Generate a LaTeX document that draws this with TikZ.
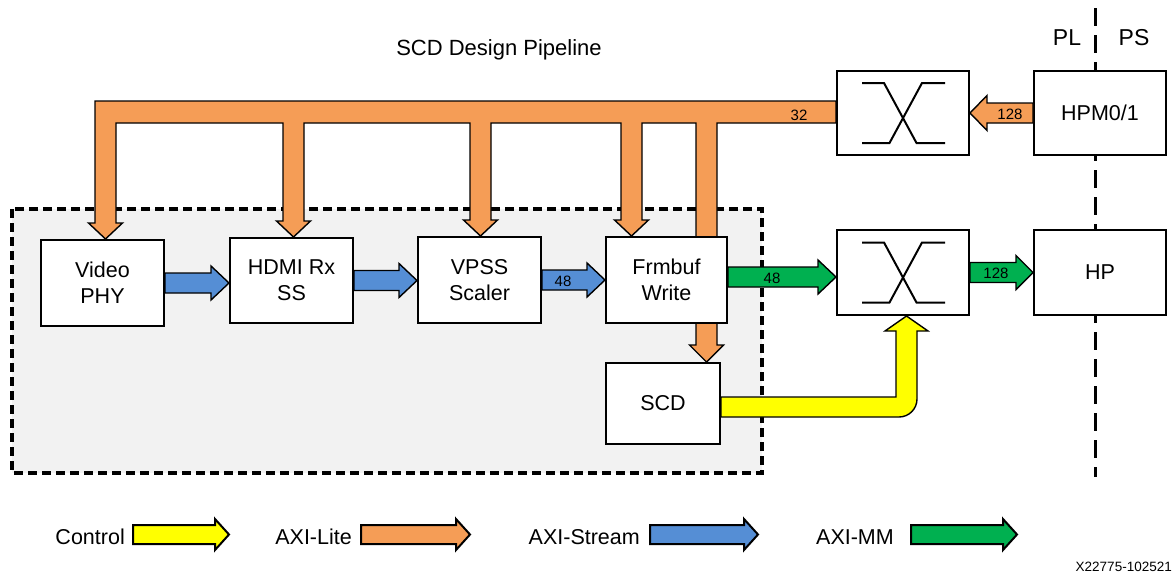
\documentclass[tikz,border=0pt]{standalone}
\usepackage{fontspec}
\setmainfont{Liberation Sans}
\usetikzlibrary{calc}
\definecolor{lite}{RGB}{245,157,86}
\definecolor{stream}{RGB}{85,142,213}
\definecolor{mm}{RGB}{0,176,80}
\definecolor{ctrl}{RGB}{255,255,0}
\definecolor{regionfill}{RGB}{242,242,242}
\pgfdeclarelayer{bg}
\pgfdeclarelayer{mid}
\pgfsetlayers{bg,mid,main}
\tikzset{
  blk/.style={draw, line width=2pt, fill=white, align=center, inner sep=0pt,
    font=\fontsize{21.5}{26}\selectfont},
  arr/.style={draw=black, line width=1.4pt, line join=miter},
  lbl/.style={inner sep=0pt, font=\fontsize{15}{15}\selectfont},
  txt/.style={inner sep=0pt, font=\fontsize{21.5}{26}\selectfont},
  bigtxt/.style={inner sep=0pt, font=\fontsize{23}{26}\selectfont},
  swline/.style={line width=2pt},
  regionline/.style={draw=black, line width=3.2pt, dash pattern=on 9pt off 5pt},
}
% right-pointing block arrow: from, to, fill, half shaft, half head, head length
\newcommand{\rblock}[6]{%
  \draw[arr, fill=#3] let \p1=(#1), \p2=(#2) in
    (\x1,\y1+#4pt) -- (\x2-#6pt,\y1+#4pt) -- (\x2-#6pt,\y1+#5pt) -- (\x2,\y1)
    -- (\x2-#6pt,\y1-#5pt) -- (\x2-#6pt,\y1-#4pt) -- (\x1,\y1-#4pt) -- cycle;}
% left-pointing block arrow
\newcommand{\lblock}[6]{%
  \draw[arr, fill=#3] let \p1=(#1), \p2=(#2) in
    (\x1,\y1+#4pt) -- (\x2+#6pt,\y1+#4pt) -- (\x2+#6pt,\y1+#5pt) -- (\x2,\y1)
    -- (\x2+#6pt,\y1-#5pt) -- (\x2+#6pt,\y1-#4pt) -- (\x1,\y1-#4pt) -- cycle;}
% crossbar symbol inside a switch box
\newcommand{\xsym}[1]{%
  \draw[swline] ($(#1)+(-41,-30)$) -- ($(#1)+(-19,-30)$) -- ($(#1)+(13.5,30)$) -- ($(#1)+(42,30)$);
  \draw[swline] ($(#1)+(-41,30)$) -- ($(#1)+(-13.5,30)$) -- ($(#1)+(19,-30)$) -- ($(#1)+(42,-30)$);}
\begin{document}
\begin{tikzpicture}[x=1pt,y=-1pt]
\useasboundingbox (0,0) rectangle (1173,576);

% background: pipeline region and PL/PS divider
\begin{pgfonlayer}{bg}
  \fill[regionfill] (12,209) rectangle (762,473);
  \draw[regionline] (12,209) rectangle (762,473);
  \draw[line width=3pt, dash pattern=on 18pt off 9pt] (1095,8) -- (1095,477);
\end{pgfonlayer}

% texts
\node[inner sep=0pt, font=\fontsize{22}{26}\selectfont] (title) at (499,50) {SCD Design Pipeline};
\node[bigtxt] (pl) at (1067,38) {PL};
\node[bigtxt] (ps) at (1134,38) {PS};

% boxes
\node[blk, minimum width=123, minimum height=86] (vphy) at (102.5,283) {Video\\PHY};
\node[blk, minimum width=123, minimum height=85] (hdmi) at (291.5,280.5) {HDMI Rx\\SS};
\node[blk, minimum width=123, minimum height=86] (vpss) at (479.5,280) {VPSS\\Scaler};
\node[blk, minimum width=121, minimum height=86] (frm) at (666.5,280) {Frmbuf\\Write};
\node[blk, minimum width=114, minimum height=81] (scd) at (663,403.5) {SCD};
\node[blk, minimum width=132, minimum height=84] (sw1) at (903,113) {};
\node[blk, minimum width=132, minimum height=84] (hpm) at (1100,113) {HPM0/1};
\node[blk, minimum width=132, minimum height=85] (sw2) at (903,272.5) {};
\node[blk, minimum width=132, minimum height=85] (hp) at (1100,272.5) {HP};
\xsym{sw1}
\xsym{sw2}

% AXI-Lite bus
\begin{pgfonlayer}{mid}
\draw[arr, fill=lite] let
  \p1=($(vphy.north)+(3,0)$), \p2=($(hdmi.north)+(2,0)$), \p3=($(vpss.north)+(1,0)$),
  \p4=($(frm.north west)+(26.5,0)$), \p5=($(scd.north east)+(-14.5,0)$), \p6=(sw1.west) in
  (\x1-10.5pt,\y6+12pt) -- (\x6,\y6+12pt) -- (\x6,\y6-10pt)
  -- (\x5+10.5pt,\y6-10pt) -- (\x5+10.5pt,\y5+17pt) -- (\x5+17pt,\y5+17pt) -- (\x5,\y5)
  -- (\x5-17pt,\y5+17pt) -- (\x5-10.5pt,\y5+17pt) -- (\x5-10.5pt,\y6-10pt)
  -- (\x4+10.5pt,\y6-10pt) -- (\x4+10.5pt,\y4+16pt) -- (\x4+17pt,\y4+16pt) -- (\x4,\y4)
  -- (\x4-17pt,\y4+16pt) -- (\x4-10.5pt,\y4+16pt) -- (\x4-10.5pt,\y6-10pt)
  -- (\x3+10.5pt,\y6-10pt) -- (\x3+10.5pt,\y3+16pt) -- (\x3+17pt,\y3+16pt) -- (\x3,\y3)
  -- (\x3-17pt,\y3+16pt) -- (\x3-10.5pt,\y3+16pt) -- (\x3-10.5pt,\y6-10pt)
  -- (\x2+10.5pt,\y6-10pt) -- (\x2+10.5pt,\y2+16pt) -- (\x2+17pt,\y2+16pt) -- (\x2,\y2)
  -- (\x2-17pt,\y2+16pt) -- (\x2-10.5pt,\y2+16pt) -- (\x2-10.5pt,\y6-10pt)
  -- (\x1+10.5pt,\y6-10pt) -- (\x1+10.5pt,\y1+16pt) -- (\x1+17pt,\y1+16pt) -- (\x1,\y1)
  -- (\x1-17pt,\y1+16pt) -- (\x1-10.5pt,\y1+16pt) -- cycle;
\end{pgfonlayer}
\node[lbl] (l32) at (799,115) {32};

% AXI-Lite from HPM
\lblock{hpm.west}{sw1.east}{lite}{10}{17.5}{17}
\node[lbl] (l128a) at (1010,114) {128};

% AXI-Stream
\rblock{vphy.east}{hdmi.west}{stream}{10}{17}{18}
\rblock{hdmi.east}{vpss.west}{stream}{10}{17}{18}
\rblock{vpss.east}{frm.west}{stream}{10}{17}{18}
\node[lbl] (l48a) at (563,281) {48};

% AXI-MM
\rblock{$(frm.east)+(0,-3)$}{sw2.west}{mm}{10}{17}{18}
\node[lbl] (l48b) at (772,278) {48};
\rblock{sw2.east}{hp.west}{mm}{10}{17}{17}
\node[lbl] (l128b) at (996,273) {128};

% Control
\draw[arr, fill=ctrl] let \p1=($(scd.east)+(0,3.5)$), \p2=($(sw2.south)+(3.5,0)$) in
  (\x1,\y1+10pt) -- (\x2-10.5pt,\y1+10pt) -- (\x2-10.5pt,\y2-15pt) -- (\x2-21.5pt,\y2-15pt)
  -- (\x2,\y2) -- (\x2+21.5pt,\y2-15pt) -- (\x2+10.5pt,\y2-15pt) -- (\x2+10.5pt,\y1+8pt)
  arc[start angle=0, end angle=-90, radius=18pt] -- (\x1,\y1-10pt) -- cycle;

% legend
\node[txt, anchor=east] (lg1) at (125,537) {Control};
\node[txt, anchor=east] (lg2) at (352,537) {AXI-Lite};
\node[txt, anchor=east] (lg3) at (640,537) {AXI-Stream};
\node[txt, anchor=east] (lg4) at (894,537) {AXI-MM};
\coordinate (a1s) at (133,534.5); \coordinate (a1e) at (229,534.5);
\coordinate (a2s) at (361,534.5); \coordinate (a2e) at (470,534.5);
\coordinate (a3s) at (650,534.5); \coordinate (a3e) at (758,534.5);
\coordinate (a4s) at (911,534.5); \coordinate (a4e) at (1017,534.5);
\begin{scope}[arr/.append style={line width=2pt}]
\rblock{a1s}{a1e}{ctrl}{9.5}{15.5}{14}
\rblock{a2s}{a2e}{lite}{9.5}{15.5}{14}
\rblock{a3s}{a3e}{stream}{9.5}{15.5}{14}
\rblock{a4s}{a4e}{mm}{9.5}{15.5}{14}
\end{scope}
\node[inner sep=0pt, anchor=east, font=\fontsize{13.5}{14}\selectfont] (fig) at (1172,567) {X22775-102521};
\end{tikzpicture}
\end{document}
